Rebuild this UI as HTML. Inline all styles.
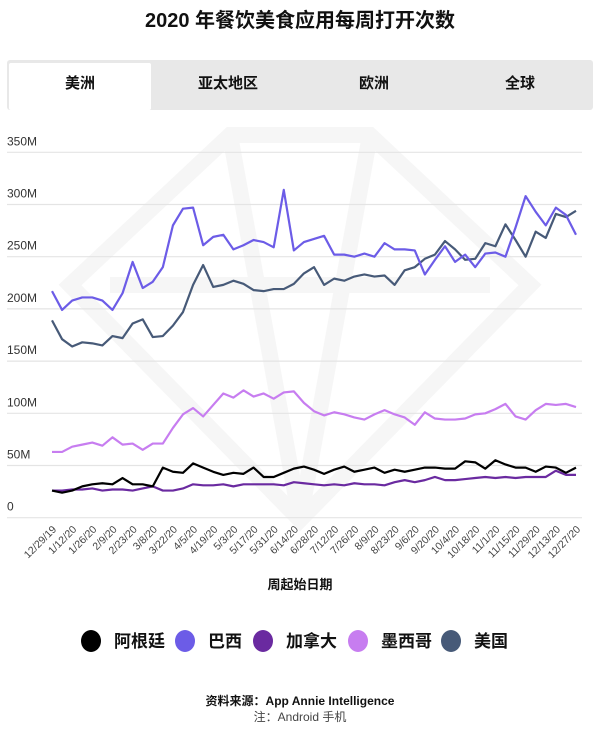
<!DOCTYPE html>
<html><head><meta charset="utf-8"><style>
body{margin:0;background:#fff;width:600px;height:727px;overflow:hidden;font-family:"Liberation Sans","Noto Sans CJK SC",sans-serif;}
</style></head><body>
<svg id="c" width="600" height="727" xmlns="http://www.w3.org/2000/svg">
<text x="300" y="27" text-anchor="middle" font-size="20" font-weight="bold" fill="#111">2020 年餐饮美食应用每周打开次数</text>
<rect x="7" y="60" width="586" height="50" fill="#e8e8e8" rx="3"/>
<rect x="9" y="63" width="142" height="47" fill="#fff" rx="2"/>
<text x="80" y="88" text-anchor="middle" font-size="15" font-weight="bold" fill="#111">美洲</text>
<text x="228" y="88" text-anchor="middle" font-size="15" font-weight="bold" fill="#111">亚太地区</text>
<text x="374" y="88" text-anchor="middle" font-size="15" font-weight="bold" fill="#111">欧洲</text>
<text x="520" y="88" text-anchor="middle" font-size="15" font-weight="bold" fill="#111">全球</text>
<g opacity="0.5" fill="none" stroke="#eeeeee" stroke-width="16">
<polygon points="230,135 370,135 530,285 300,520 70,285"/>
<polyline points="110,285 490,285"/>
<polyline points="230,135 300,520 370,135"/>
</g>
<g id="grid"></g><g id="lines"></g><g id="xl"></g>
<text x="300" y="589" text-anchor="middle" font-size="13" font-weight="bold" fill="#111">周起始日期</text>
<g id="legend"></g>
<text x="300" y="705" text-anchor="middle" font-size="12" font-weight="bold" fill="#111">资料来源：App Annie Intelligence</text>
<text x="300" y="721" text-anchor="middle" font-size="12" fill="#444">注：Android 手机</text>
</svg>
<script>
const yTicks=[0,50,100,150,200,250,300,350];
const xLabels=["12/29/19","1/12/20","1/26/20","2/9/20","2/23/20","3/8/20","3/22/20","4/5/20","4/19/20","5/3/20","5/17/20","5/31/20","6/14/20","6/28/20","7/12/20","7/26/20","8/9/20","8/23/20","9/6/20","9/20/20","10/4/20","10/18/20","11/1/20","11/15/20","11/29/20","12/13/20","12/27/20"];
const seriesNames=["阿根廷","巴西","加拿大","墨西哥","美国"];
const seriesColors=["#000000","#6c5ce7","#6a2aa0","#c77df0","#475a78"];
const argentina=[26,24,26,30,32,33,32,38,32,32,30,48,44,43,52,48,44,41,43,42,48,39,39,43,47,49,46,42,46,49,44,46,48,43,46,44,46,48,48,47,47,54,53,47,55,51,48,48,44,49,48,43,48];
const brazil=[217,199,208,211,211,208,199,215,245,220,226,240,280,296,297,261,269,271,257,261,266,264,259,314,256,264,267,270,252,252,250,253,250,263,257,257,256,233,247,260,245,252,240,253,254,250,278,308,293,280,297,290,271];
const canada=[26,26,27,27,28,26,27,27,26,28,30,26,26,28,32,31,31,32,30,32,32,32,32,31,34,33,32,31,32,31,33,32,32,31,34,36,34,36,39,36,36,37,38,39,38,39,38,39,39,39,45,41,41];
const mexico=[63,63,68,70,72,69,77,70,71,65,71,71,86,99,105,97,108,119,115,122,116,119,114,120,121,110,102,98,101,99,96,94,99,103,99,96,89,101,95,94,94,95,99,100,104,109,97,94,103,109,108,109,106];
const usa=[189,171,164,168,167,165,174,172,186,190,173,174,184,197,223,242,221,223,227,224,218,217,219,219,224,234,240,223,229,227,231,233,231,232,223,237,240,248,252,265,257,247,248,263,260,281,266,250,274,268,291,288,294];
const data=[argentina,brazil,canada,mexico,usa];
const NS="http://www.w3.org/2000/svg";
const x0=52,x1=576,y0=517.7,y350=152.3;
const X=i=>x0+i*(x1-x0)/52;
const Y=v=>y0-v*(y0-y350)/350;
function el(t,a,p){const e=document.createElementNS(NS,t);for(const k in a)e.setAttribute(k,a[k]);document.getElementById(p).appendChild(e);return e;}
yTicks.forEach(t=>{
 const l=el('line',{x1:7,x2:582,y1:Y(t),y2:Y(t),stroke:'#e4e4e4','stroke-width':1.2},'grid');
 
 
 const tx=el('text',{x:7,y:Y(t)-7,'font-size':12,fill:'#333'},'grid');
 tx.textContent=t===0?'0':t+'M';
 
 
});
xLabels.forEach((s,i)=>{
 const x=X(i*2)+5,y=530;
 const t=el('text',{x:x,y:y,'font-size':10.5,fill:'#444','text-anchor':'end',transform:`rotate(-45 ${x} ${y})`},'xl');
 t.textContent=s;
 
 
});
[4,1,3,2,0].forEach(k=>{
 const p=el('polyline',{points:data[k].map((v,i)=>X(i)+','+Y(v)).join(' '),fill:'none',stroke:seriesColors[k],'stroke-width':2.2,'stroke-linejoin':'round'},'lines');
 
 
});
const lx=[91,185,263,358,451];
seriesNames.forEach((n,k)=>{
 const c=el('ellipse',{cx:lx[k],cy:641,rx:10,ry:11,fill:seriesColors[k]},'legend');
 
 
 const t=el('text',{x:lx[k]+23,y:647,'font-size':17,'font-weight':'bold',fill:'#111'},'legend');
 t.textContent=n;
 
 
});
</script>
</body></html>
